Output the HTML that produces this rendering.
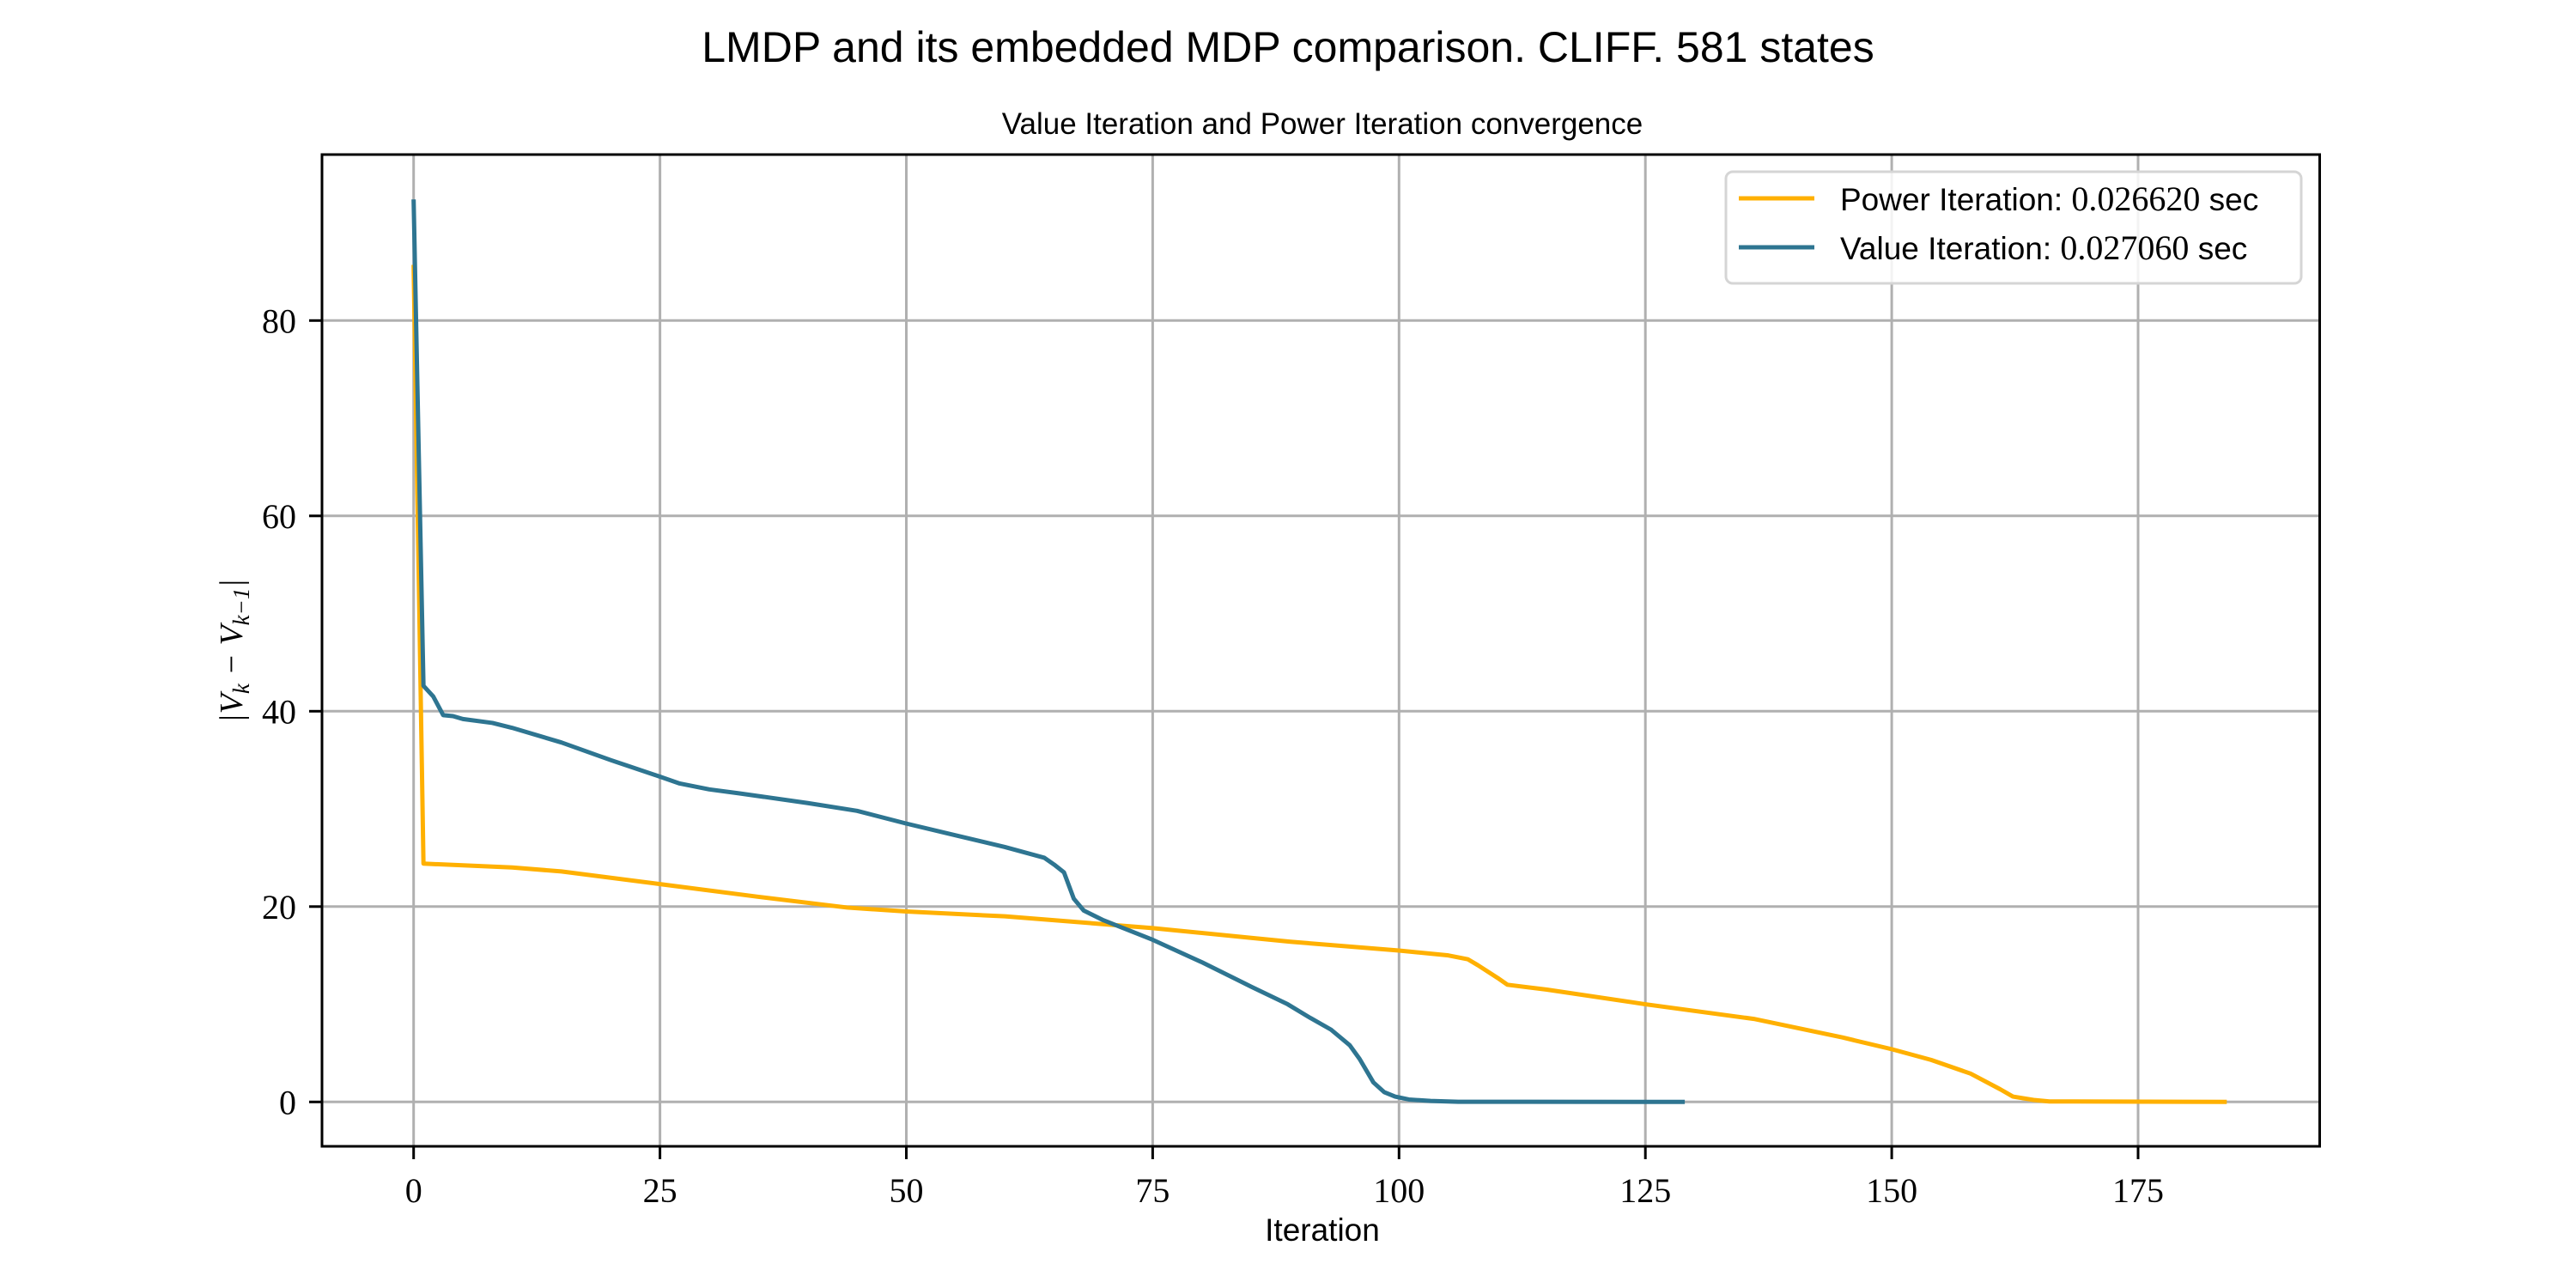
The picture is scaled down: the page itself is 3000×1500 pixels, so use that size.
<!DOCTYPE html>
<html><head><meta charset="utf-8"><style>
body{margin:0;background:#fff;}
svg{display:block;}
.t{font-family:"Liberation Sans",sans-serif;fill:#000;}
.s{font-family:"Liberation Serif",serif;fill:#000;}
</style></head><body>
<svg id="chart" width="3000" height="1500" viewBox="0 0 3000 1500">
<text class="t" x="1500" y="72" font-size="50" text-anchor="middle">LMDP and its embedded MDP comparison. CLIFF. 581 states</text>
<text class="t" x="1540" y="156" font-size="35" text-anchor="middle">Value Iteration and Power Iteration convergence</text>
<g id="grid"></g>
<g id="series"></g>
<rect x="375" y="180" width="2326.5" height="1155" fill="none" stroke="#000" stroke-width="3"/>
<g id="ticks"></g>
<text class="t" x="1540" y="1445" font-size="37" text-anchor="middle">Iteration</text>
<text class="s" transform="translate(282,758) rotate(-90)" font-size="38" text-anchor="middle" font-style="italic">|V<tspan font-size="27" dy="8">k</tspan><tspan dy="-8"> − V</tspan><tspan font-size="27" dy="8">k−1</tspan><tspan dy="-8">|</tspan></text>
<g>
<rect x="2010" y="200" width="670" height="130" rx="8" fill="#fff" fill-opacity="0.85" stroke="#d5d5d5" stroke-width="3"/>
<line x1="2025" y1="231" x2="2113" y2="231" stroke="#FFB000" stroke-width="5"/>
<text class="t" x="2143" y="245" font-size="37">Power Iteration: <tspan class="s" font-family="Liberation Serif" font-size="40">0.026620</tspan> sec</text>
<line x1="2025" y1="288" x2="2113" y2="288" stroke="#2E7591" stroke-width="5"/>
<text class="t" x="2143" y="302" font-size="37">Value Iteration: <tspan class="s" font-family="Liberation Serif" font-size="40">0.027060</tspan> sec</text>
</g>
</svg>
<script>
const xTicks=[0,25,50,75,100,125,150,175];
const yTicks=[0,20,40,60,80];
const powerX=[0,1,10,15,25,35,44,50,60,75,85,89,100,105,107,108,110,111,115,125,136,145,150,154,158,161,162.3,164.4,166,184];
const powerY=[85.7,24.4,24.0,23.6,22.3,21.0,19.9,19.5,19.0,17.8,16.8,16.4,15.5,15.0,14.6,14.0,12.7,12.0,11.5,10.0,8.5,6.6,5.4,4.3,2.9,1.3,0.55,0.2,0.05,0.0];
const valueX=[0,1,2,3,4,5,8,10,15,20,25,27,30,33,40,45,50,55,60,64,65,66,67,68,70,75,80,85,88.7,91,93.1,95,96,97.4,98.5,99.6,101,103.2,106,129];
const valueY=[92.4,42.6,41.5,39.6,39.5,39.2,38.8,38.3,36.8,35.0,33.3,32.6,32.0,31.6,30.6,29.8,28.5,27.3,26.1,25.0,24.3,23.5,20.8,19.6,18.6,16.6,14.3,11.8,10.0,8.6,7.4,5.8,4.4,2.0,1.0,0.55,0.25,0.1,0.02,0.0];
const NS='http://www.w3.org/2000/svg';
const L=375,R=2701.5,T=180,B=1335;
function sx(v){return 481.7+v*11.476;}
function sy(v){return 1283.3-v*11.375;}
const grid=document.getElementById('grid'),ticks=document.getElementById('ticks'),ser=document.getElementById('series');
function mk(tag,attrs,parent){const e=document.createElementNS(NS,tag);for(const k in attrs)e.setAttribute(k,attrs[k]);parent.appendChild(e);return e;}
xTicks.forEach(v=>{
  const g=mk('line',{x1:sx(v),x2:sx(v),y1:T,y2:B,stroke:'#b0b0b0','stroke-width':3},grid);
  
  
  const t=mk('line',{x1:sx(v),x2:sx(v),y1:B,y2:B+15,stroke:'#000','stroke-width':3},ticks);
  
  
  const l=mk('text',{x:sx(v),y:1400,'font-size':40,'text-anchor':'middle','class':'s','font-weight':'500'},ticks);
  l.textContent=v;
  
  
});
yTicks.forEach(v=>{
  const g=mk('line',{x1:L,x2:R,y1:sy(v),y2:sy(v),stroke:'#b0b0b0','stroke-width':3},grid);
  
  
  const t=mk('line',{x1:L-15,x2:L,y1:sy(v),y2:sy(v),stroke:'#000','stroke-width':3},ticks);
  
  
  const l=mk('text',{x:345,y:sy(v)+14,'font-size':40,'text-anchor':'end','class':'s'},ticks);
  l.textContent=v;
  
  
});
function line(xs,ys,color){
  return mk('polyline',{points:xs.map((x,i)=>sx(x)+','+sy(ys[i])).join(' '),fill:'none',stroke:color,'stroke-width':5,'stroke-linejoin':'round'},ser);
}
const p=line(powerX,powerY,'#FFB000');


const v=line(valueX,valueY,'#2E7591');


</script>
</body></html>
